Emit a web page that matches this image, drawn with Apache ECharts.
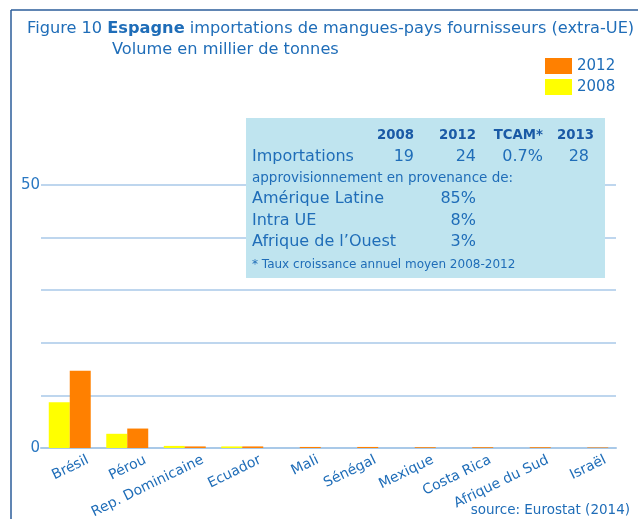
<!DOCTYPE html>
<html><head><meta charset="utf-8">
<script src="https://cdn.jsdelivr.net/npm/echarts@6/dist/echarts.min.js"></script>
<style>html,body{margin:0;padding:0;background:#fff}#c{width:638px;height:519px}</style>
</head><body><div id="c"></div>
<script>
const categories = ['Brésil','Pérou','Rep. Dominicaine','Ecuador','Mali','Sénégal','Mexique','Costa Rica','Afrique du Sud','Israël'];
const values2008 = [8.7, 2.7, 0.4, 0.3, 0, 0, 0, 0, 0, 0];
const values2012 = [14.7, 3.7, 0.3, 0.3, 0.2, 0.2, 0.15, 0.15, 0.15, 0.1];
const yTickLabels = ['0', '50'];
const tableHeader = ['2008', '2012', 'TCAM*', '2013'];
const importRow = ['19', '24', '0.7%', '28'];
const originLabels = ['Amérique Latine', 'Intra UE', "Afrique de l’Ouest"];
const originShares = ['85%', '8%', '3%'];

const BLUE = '#1f6db8';
const FONT = 'DejaVu Sans';
const chart = echarts.init(document.getElementById('c'));

const g = [];
// frame
g.push({type:'line', shape:{x1:11,y1:10,x2:638,y2:10}, style:{stroke:'#2b5c9a', lineWidth:1.5}, z:10});
g.push({type:'line', shape:{x1:11,y1:10,x2:11,y2:519}, style:{stroke:'#2b5c9a', lineWidth:1.5}, z:10});
// title
g.push({type:'text', left:27, top:21, style:{text:'{a|Figure 10 }{b|Espagne}{a| importations de mangues-pays fournisseurs (extra-UE)}', rich:{a:{fontSize:16.2, fontFamily:FONT, fill:BLUE}, b:{fontSize:16.2, fontFamily:FONT, fontWeight:'bold', fill:BLUE}}}});
g.push({type:'text', left:112, top:42, style:{text:'Volume en millier de tonnes', fontSize:16.2, fontFamily:FONT, fill:BLUE}});
// info box
g.push({type:'rect', shape:{x:246, y:118, width:359, height:160}, style:{fill:'#bfe4ef'}, z:20});
const cols = [414, 476, 543, 594];
tableHeader.forEach((t,i)=>g.push({type:'text', z:21, style:{x:cols[i], y:136, text:t, align:'right', verticalAlign:'middle', fontSize:13.3, fontWeight:'bold', fontFamily:FONT, fill:'#1a5aa6'}}));
g.push({type:'text', z:21, style:{x:252, y:157, text:'Importations', verticalAlign:'middle', fontSize:16, fontFamily:FONT, fill:BLUE}});
const vcols = [414, 476, 543, 589];
importRow.forEach((t,i)=>g.push({type:'text', z:21, style:{x:vcols[i], y:157, text:t, align:'right', verticalAlign:'middle', fontSize:16, fontFamily:FONT, fill:BLUE}}));
g.push({type:'text', z:21, style:{x:252, y:178, text:'approvisionnement en provenance de:', verticalAlign:'middle', fontSize:13.5, fontFamily:FONT, fill:BLUE}});
const rowsY = [199, 221, 242];
originLabels.forEach((t,i)=>{
  g.push({type:'text', z:21, style:{x:252, y:rowsY[i], text:t, verticalAlign:'middle', fontSize:16, fontFamily:FONT, fill:BLUE}});
  g.push({type:'text', z:21, style:{x:476, y:rowsY[i], text:originShares[i], align:'right', verticalAlign:'middle', fontSize:16, fontFamily:FONT, fill:BLUE}});
});
g.push({type:'text', z:21, style:{x:252, y:265, text:'* Taux croissance annuel moyen 2008-2012', verticalAlign:'middle', fontSize:12, fontFamily:FONT, fill:BLUE}});
// source
g.push({type:'text', z:21, style:{x:630, y:510, text:'source: Eurostat (2014)', align:'right', verticalAlign:'middle', fontSize:13.5, fontFamily:FONT, fill:BLUE}});

chart.setOption({
  animation:false,
  grid:{left:41, right:22, top:185, bottom:71},
  legend:{data:['2012','2008'], orient:'vertical', left:540, top:53, itemWidth:27, itemHeight:16, itemGap:5,
    textStyle:{fontSize:15, fontFamily:FONT, color:BLUE}, icon:'rect', selectedMode:false},
  xAxis:{type:'category', data:categories,
    axisLine:{show:true, lineStyle:{color:'#a9c9e8', width:2}}, axisTick:{show:false},
    axisLabel:{show:false}},
  yAxis:{type:'value', min:0, max:50, interval:10,
    axisLine:{show:false}, axisTick:{show:false},
    splitLine:{lineStyle:{color:'#a9c9e8', width:1.5}},
    axisLabel:{fontSize:15, fontFamily:FONT, color:'#2a78c2', margin:1,
      formatter:v=> yTickLabels.includes(String(v)) ? String(v) : ''}},
  series:[
    {name:'2008', type:'bar', data:values2008, barGap:'0%', barCategoryGap:'27%', itemStyle:{color:'#ffff00'}},
    {name:'2012', type:'bar', data:values2012, itemStyle:{color:'#ff8000'}}
  ],
  graphic:g
});

// category labels placed through the axis scale
const y0 = chart.convertToPixel({yAxisIndex:0}, 0);
const labels = categories.map((c,i)=>{
  const cx = chart.convertToPixel({xAxisIndex:0}, c);
  return {type:'text', x:cx+15, y:y0+5, rotation:26*Math.PI/180, z:15,
    style:{x:0, y:0, text:c, align:'right', verticalAlign:'top', fontSize:14, fontFamily:FONT, fill:BLUE}};
});
chart.setOption({graphic:g.concat(labels)}, {replaceMerge:['graphic']});
</script></body></html>
